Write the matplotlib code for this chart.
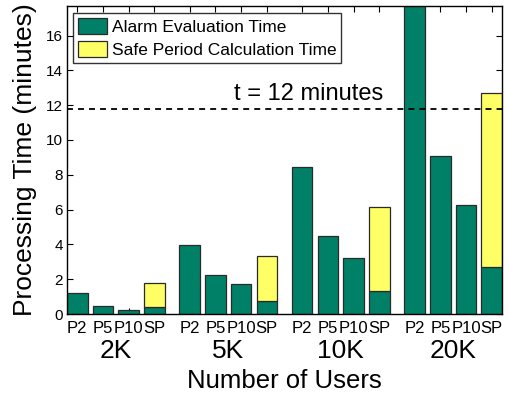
import matplotlib
matplotlib.use("Agg")
import matplotlib.pyplot as plt
import matplotlib.transforms as mtransforms
from matplotlib.patches import Patch
import numpy as np

plt.rcParams['font.family'] = ['Liberation Sans', 'DejaVu Sans']

groups = ["2K", "5K", "10K", "20K"]
methods = ["P2", "P5", "P10", "SP"]
# Alarm evaluation time (minutes) for P2, P5, P10, SP per group
alarm_eval = [
    [1.20, 0.46, 0.21, 0.41],
    [3.95, 2.23, 1.70, 0.72],
    [8.42, 4.51, 3.24, 1.32],
    [18.0, 9.06, 6.27, 2.71],
]
# Safe period calculation time (stacked on SP only)
safe_period = [1.37, 2.61, 4.81, 9.98]
threshold = 11.8
threshold_label = "t = 12 minutes"

GREEN = "#008066"
YELLOW = "#ffff66"
EDGE = "#2a2a2a"

fig = plt.figure(figsize=(5.08, 4.00), dpi=100)
ax = fig.add_axes([67/508, 1-314/400, (502-67)/508, (314-6)/400])

group_step = 4.375
width = 0.8
xs, xlabels = [], []
for gi, g in enumerate(groups):
    base = gi * group_step
    for mi, m in enumerate(methods):
        x = base + mi
        xs.append(x)
        xlabels.append(m)
        ax.bar(x, alarm_eval[gi][mi], width=width, color=GREEN, edgecolor=EDGE, linewidth=0.9, zorder=2)
        if m == "SP":
            ax.bar(x, safe_period[gi], width=width, bottom=alarm_eval[gi][mi],
                   color=YELLOW, edgecolor=EDGE, linewidth=0.9, zorder=2)

ax.set_xlim(-width/2, 3*group_step + 3 + width/2)
ax.set_ylim(0, 17.7)
ax.set_yticks(np.arange(0, 17, 2))
ax.set_xticks(xs)
ax.set_xticklabels(xlabels, fontsize=12)
ax.tick_params(axis='y', labelsize=11)
ax.tick_params(direction='in', top=True, right=True, length=4, width=0.8, pad=3)
ax.tick_params(axis='x', pad=5)
for s in ax.spines.values():
    s.set_linewidth(1.0)
    s.set_color('black')

ax.axhline(threshold, color='black', linestyle=(0, (3.3, 2.8)), linewidth=1.3, zorder=3)
ax.text(9.0, 12.65, threshold_label, fontsize=17, ha='center', va='center')

trans = mtransforms.blended_transform_factory(ax.transData, ax.transAxes)
for gi, g in enumerate(groups):
    ax.text(gi*group_step + 1.5, -0.119, g, fontsize=19, ha='center', va='center', transform=trans)

fig.text((67+502)/2/508, 1-380.7/400, "Number of Users", fontsize=18.5, ha='center', va='center')
fig.text(25/508, 0.5*(1-314/400 + 1-6/400), "Processing Time (minutes)", fontsize=19,
         ha='center', va='center', rotation=90)

handles = [Patch(facecolor=GREEN, edgecolor=EDGE, linewidth=0.9, label="Alarm Evaluation Time"),
           Patch(facecolor=YELLOW, edgecolor=EDGE, linewidth=0.9, label="Safe Period Calculation Time")]
leg = ax.legend(handles=handles, loc='upper left', bbox_to_anchor=(6/435, 1-7/308),
                borderaxespad=0, fontsize=12.5, frameon=True, fancybox=False,
                edgecolor='black', handlelength=1.67, handleheight=1.0,
                handletextpad=0.25, borderpad=0.3, labelspacing=0.35)
leg.get_frame().set_linewidth(1.0)
leg.set_zorder(5)

fig.savefig("out.png", dpi=100)
